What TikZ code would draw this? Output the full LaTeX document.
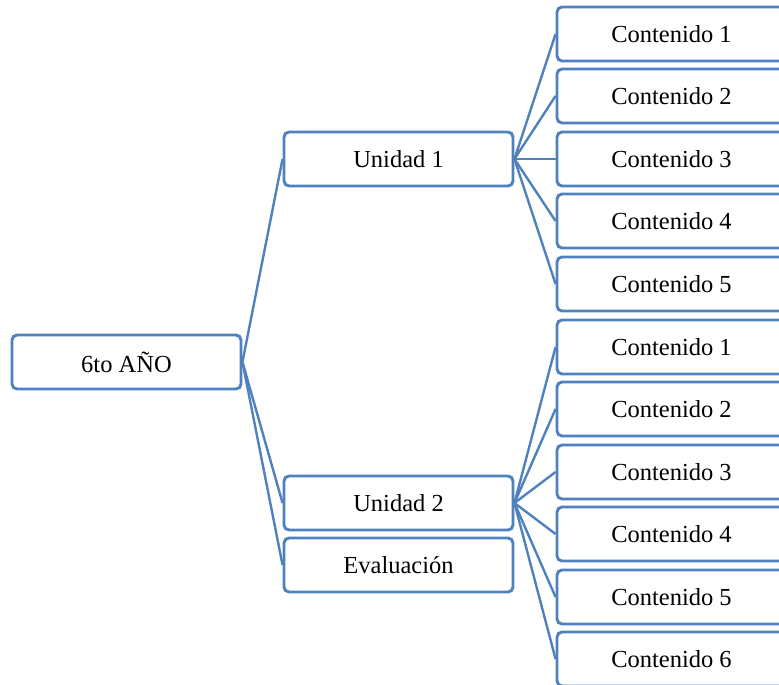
\documentclass[tikz,border=0pt]{standalone}
\usepackage{fontspec}
\setmainfont{Liberation Serif}
\definecolor{ofblue}{HTML}{4F81BD}
\begin{document}
\begin{tikzpicture}[x=1pt,y=-1pt,
  box/.style={draw=ofblue,line width=2.9pt,rounded corners=5pt,fill=white,
    minimum width=229pt,minimum height=54pt,inner sep=0pt,
    font=\fontsize{24.5}{29}\selectfont},
  link/.style={draw=ofblue,line width=2.4pt}]
\useasboundingbox (0,0) rectangle (779,685);
\clip (0,0) rectangle (779,685);
\node[box] (root) at (126.5,362) {6to AÑO};
\node[box] (u1) at (398.5,159) {Unidad 1};
\node[box] (u2) at (398.5,503) {Unidad 2};
\node[box] (ev) at (398.5,565) {Evaluación};
\foreach \i/\y in {1/34,2/96,3/159,4/221,5/284}
  \node[box] (a\i) at (671.5,\y) {Contenido \i};
\foreach \i/\y in {1/347,2/409,3/472,4/534,5/597,6/659}
  \node[box] (b\i) at (671.5,\y) {Contenido \i};
\draw[link] (root.east) -- (u1.west);
\draw[link] (root.east) -- (u2.west);
\draw[link] (root.east) -- (ev.west);
\foreach \i in {1,...,5} \draw[link] (u1.east) -- (a\i.west);
\foreach \i in {1,...,6} \draw[link] (u2.east) -- (b\i.west);
\end{tikzpicture}
\end{document}
